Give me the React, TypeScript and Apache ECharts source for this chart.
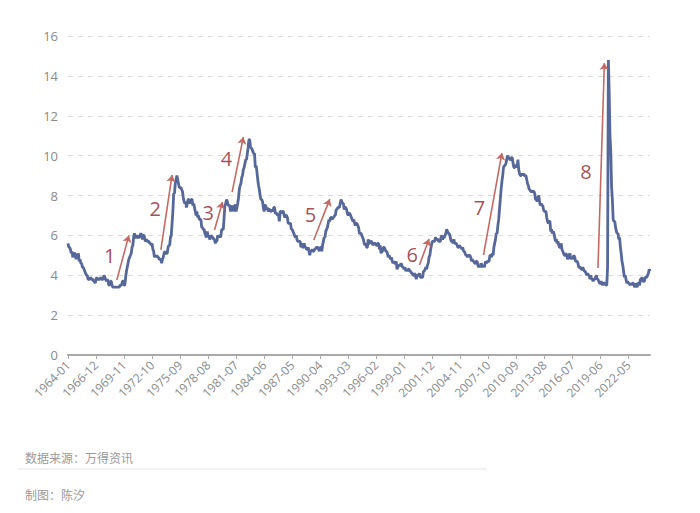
import React, { useEffect, useRef } from "react";
import * as echarts from "echarts";

const startYear = 1964;
const unrate: number[][] = [
  [5.6, 5.4, 5.4, 5.3, 5.1, 5.2, 4.9, 5.0, 5.1, 5.1, 4.8, 5.0],
  [4.9, 5.1, 4.7, 4.8, 4.6, 4.6, 4.4, 4.4, 4.3, 4.2, 4.1, 4.0],
  [4.0, 3.8, 3.8, 3.8, 3.9, 3.8, 3.8, 3.8, 3.7, 3.7, 3.6, 3.8],
  [3.9, 3.8, 3.8, 3.8, 3.8, 3.9, 3.8, 3.8, 3.8, 4.0, 3.9, 3.8],
  [3.7, 3.8, 3.7, 3.5, 3.5, 3.7, 3.7, 3.5, 3.4, 3.4, 3.4, 3.4],
  [3.4, 3.4, 3.4, 3.4, 3.4, 3.5, 3.5, 3.5, 3.7, 3.7, 3.5, 3.5],
  [3.9, 4.2, 4.4, 4.6, 4.8, 4.9, 5.0, 5.1, 5.4, 5.5, 5.9, 6.1],
  [5.9, 5.9, 6.0, 5.9, 5.9, 5.9, 6.0, 6.1, 6.0, 5.8, 6.0, 6.0],
  [5.8, 5.7, 5.8, 5.7, 5.7, 5.7, 5.6, 5.6, 5.5, 5.6, 5.3, 5.2],
  [4.9, 5.0, 4.9, 5.0, 4.9, 4.9, 4.8, 4.8, 4.8, 4.6, 4.8, 4.9],
  [5.1, 5.2, 5.1, 5.1, 5.1, 5.4, 5.5, 5.5, 5.9, 6.0, 6.6, 7.2],
  [8.1, 8.1, 8.6, 8.8, 9.0, 8.8, 8.6, 8.4, 8.4, 8.4, 8.3, 8.2],
  [7.9, 7.7, 7.6, 7.7, 7.4, 7.6, 7.8, 7.8, 7.6, 7.7, 7.8, 7.8],
  [7.5, 7.6, 7.4, 7.2, 7.0, 7.2, 6.9, 7.0, 6.8, 6.8, 6.8, 6.4],
  [6.4, 6.3, 6.3, 6.1, 6.0, 5.9, 6.2, 5.9, 6.0, 5.8, 5.9, 6.0],
  [5.9, 5.9, 5.8, 5.8, 5.6, 5.7, 5.7, 6.0, 5.9, 6.0, 5.9, 6.0],
  [6.3, 6.3, 6.3, 6.9, 7.5, 7.6, 7.8, 7.7, 7.5, 7.5, 7.5, 7.2],
  [7.5, 7.4, 7.4, 7.2, 7.5, 7.5, 7.2, 7.4, 7.6, 7.9, 8.3, 8.5],
  [8.6, 8.9, 9.0, 9.3, 9.4, 9.6, 9.8, 9.8, 10.1, 10.4, 10.8, 10.8],
  [10.4, 10.4, 10.3, 10.2, 10.1, 10.1, 9.4, 9.5, 9.2, 8.8, 8.5, 8.3],
  [8.0, 7.8, 7.8, 7.7, 7.4, 7.2, 7.5, 7.5, 7.3, 7.4, 7.2, 7.3],
  [7.3, 7.2, 7.2, 7.3, 7.2, 7.4, 7.4, 7.1, 7.1, 7.1, 7.0, 7.0],
  [6.7, 7.2, 7.2, 7.1, 7.2, 7.2, 7.0, 6.9, 7.0, 7.0, 6.9, 6.6],
  [6.6, 6.6, 6.6, 6.3, 6.3, 6.2, 6.1, 6.0, 5.9, 6.0, 5.8, 5.7],
  [5.7, 5.7, 5.7, 5.4, 5.6, 5.4, 5.4, 5.6, 5.4, 5.4, 5.3, 5.3],
  [5.4, 5.2, 5.0, 5.2, 5.2, 5.3, 5.2, 5.2, 5.3, 5.3, 5.4, 5.4],
  [5.4, 5.3, 5.2, 5.4, 5.4, 5.2, 5.5, 5.7, 5.9, 5.9, 6.2, 6.3],
  [6.4, 6.6, 6.8, 6.7, 6.9, 6.9, 6.8, 6.9, 6.9, 7.0, 7.0, 7.3],
  [7.3, 7.4, 7.4, 7.4, 7.6, 7.8, 7.7, 7.6, 7.6, 7.3, 7.4, 7.4],
  [7.3, 7.1, 7.0, 7.1, 7.1, 7.0, 6.9, 6.8, 6.7, 6.8, 6.6, 6.5],
  [6.6, 6.6, 6.5, 6.4, 6.1, 6.1, 6.1, 6.0, 5.9, 5.8, 5.6, 5.5],
  [5.6, 5.4, 5.4, 5.8, 5.6, 5.6, 5.7, 5.7, 5.6, 5.5, 5.6, 5.6],
  [5.6, 5.5, 5.5, 5.6, 5.6, 5.3, 5.5, 5.1, 5.2, 5.2, 5.4, 5.4],
  [5.3, 5.2, 5.2, 5.1, 4.9, 5.0, 4.9, 4.8, 4.9, 4.7, 4.6, 4.7],
  [4.6, 4.6, 4.7, 4.3, 4.4, 4.5, 4.5, 4.5, 4.6, 4.5, 4.4, 4.4],
  [4.3, 4.4, 4.2, 4.3, 4.2, 4.3, 4.3, 4.2, 4.2, 4.1, 4.1, 4.0],
  [4.0, 4.1, 4.0, 3.8, 4.0, 4.0, 4.0, 4.1, 3.9, 3.9, 3.9, 3.9],
  [4.2, 4.2, 4.3, 4.4, 4.3, 4.5, 4.6, 4.9, 5.0, 5.3, 5.5, 5.7],
  [5.7, 5.7, 5.7, 5.9, 5.8, 5.8, 5.8, 5.7, 5.7, 5.7, 5.9, 6.0],
  [5.8, 5.9, 5.9, 6.0, 6.1, 6.3, 6.2, 6.1, 6.1, 6.0, 5.8, 5.7],
  [5.7, 5.6, 5.8, 5.6, 5.6, 5.6, 5.5, 5.4, 5.4, 5.5, 5.4, 5.4],
  [5.3, 5.4, 5.2, 5.2, 5.1, 5.0, 5.0, 4.9, 5.0, 5.0, 5.0, 4.9],
  [4.7, 4.8, 4.7, 4.7, 4.6, 4.6, 4.7, 4.7, 4.5, 4.4, 4.5, 4.4],
  [4.6, 4.5, 4.4, 4.5, 4.4, 4.6, 4.7, 4.6, 4.7, 4.7, 4.7, 5.0],
  [5.0, 4.9, 5.1, 5.0, 5.4, 5.6, 5.8, 6.1, 6.1, 6.5, 6.8, 7.3],
  [7.8, 8.3, 8.7, 9.0, 9.4, 9.5, 9.5, 9.6, 9.8, 10.0, 9.9, 9.9],
  [9.8, 9.8, 9.9, 9.9, 9.6, 9.4, 9.4, 9.5, 9.5, 9.4, 9.8, 9.3],
  [9.1, 9.0, 9.0, 9.1, 9.0, 9.1, 9.0, 9.0, 9.0, 8.8, 8.6, 8.5],
  [8.3, 8.3, 8.2, 8.2, 8.2, 8.2, 8.2, 8.1, 7.8, 7.8, 7.7, 7.9],
  [8.0, 7.7, 7.5, 7.6, 7.5, 7.5, 7.3, 7.2, 7.2, 7.2, 6.9, 6.7],
  [6.6, 6.7, 6.7, 6.2, 6.3, 6.1, 6.2, 6.1, 5.9, 5.7, 5.8, 5.6],
  [5.7, 5.5, 5.4, 5.4, 5.6, 5.3, 5.2, 5.1, 5.0, 5.0, 5.1, 5.0],
  [4.8, 4.9, 5.0, 5.1, 4.8, 4.9, 4.8, 4.9, 5.0, 4.9, 4.7, 4.7],
  [4.7, 4.6, 4.4, 4.4, 4.4, 4.3, 4.3, 4.4, 4.3, 4.2, 4.2, 4.1],
  [4.0, 4.1, 4.0, 4.0, 3.8, 4.0, 3.8, 3.8, 3.7, 3.8, 3.8, 3.9],
  [4.0, 3.8, 3.8, 3.7, 3.6, 3.6, 3.7, 3.6, 3.5, 3.6, 3.6, 3.6],
  [3.5, 3.5, 4.4, 14.8, 13.2, 11.0, 10.2, 8.4, 7.8, 6.8, 6.7, 6.7],
  [6.4, 6.2, 6.1, 6.1, 5.8, 5.9, 5.4, 5.1, 4.7, 4.5, 4.2, 3.9],
  [4.0, 3.8, 3.6, 3.7, 3.6, 3.6, 3.5, 3.6, 3.5, 3.6, 3.6, 3.5],
  [3.4, 3.6, 3.5, 3.4, 3.6, 3.6, 3.5, 3.8, 3.8, 3.9, 3.7, 3.7],
  [3.7, 3.9, 3.9, 3.9, 4.0, 4.1, 4.3, 4.2],
];

// arrows: [startMonth, startValue, endMonth, endValue]
const arrows: [string, number, string, number][] = [
  ["1969-02", 3.76, "1970-05", 6.0],
  ["1973-09", 5.27, "1974-11", 9.03],
  ["1979-04", 6.27, "1980-02", 7.67],
  ["1981-02", 8.17, "1982-04", 10.93],
  ["1989-08", 5.77, "1991-04", 7.82],
  ["2000-08", 4.51, "2001-08", 5.82],
  ["2007-04", 5.01, "2009-03", 10.13],
  ["2019-03", 4.36, "2019-11", 14.64],
];

// numbered labels: [month, value, text]
const labels: [string, number, string][] = [
  ["1968-05", 5.0, "1"],
  ["1973-02", 7.37, "2"],
  ["1978-08", 7.15, "3"],
  ["1980-07", 9.85, "4"],
  ["1989-04", 7.07, "5"],
  ["1999-11", 5.05, "6"],
  ["2006-11", 7.4, "7"],
  ["2017-12", 9.18, "8"],
];

const categories: string[] = [];
const values: number[] = [];
unrate.forEach((row, yi) => {
  row.forEach((v, mi) => {
    categories.push(`${startYear + yi}-${String(mi + 1).padStart(2, "0")}`);
    values.push(v);
  });
});

export default function App() {
  const ref = useRef<HTMLDivElement>(null);
  useEffect(() => {
    document.body.style.margin = "0";
    const chart = echarts.init(ref.current!, null, { renderer: "svg" });
    const font = "'Open Sans', 'Noto Sans', 'Noto Sans CJK SC', sans-serif";
    chart.setOption({
      animation: false,
      backgroundColor: "#ffffff",
      textStyle: { fontFamily: font },
      grid: { left: 68, right: 50, top: 36, bottom: 158, containLabel: false },
      xAxis: {
        type: "category",
        data: categories,
        boundaryGap: false,
        axisLine: { lineStyle: { color: "#a9a9a9", width: 2 } },
        axisTick: { show: true, interval: 34, length: 4, lineStyle: { color: "#a9a9a9" } },
        axisLabel: {
          interval: 34,
          rotate: 45,
          color: "#8a8a8a",
          fontSize: 12,
          fontFamily: font,
          margin: 8,
        },
        splitLine: { show: false },
      },
      yAxis: {
        type: "value",
        min: 0,
        max: 16,
        interval: 2,
        axisLine: { show: false },
        axisTick: { show: false },
        axisLabel: { color: "#8a8a8a", fontSize: 13, fontFamily: font, margin: 10 },
        splitLine: { lineStyle: { color: "#dcdcdc", type: [5, 5], width: 1 } },
      },
      series: [
        {
          type: "line",
          data: values,
          showSymbol: false,
          lineStyle: { color: "#56679a", width: 2.8 },
          itemStyle: { color: "#56679a" },
          markLine: {
            silent: true,
            symbol: ["none", "arrow"],
            symbolSize: 7,
            label: { show: false },
            lineStyle: { color: "#c46a63", width: 1.6, type: "solid" },
            itemStyle: { color: "#c46a63" },
            data: arrows.map(([c1, v1, c2, v2]) => [
              { coord: [c1, v1] },
              { coord: [c2, v2] },
            ]),
          },
          z: 2,
        },
        {
          type: "scatter",
          data: labels.map(([c, v, t]) => ({ value: [c, v], name: t })),
          symbolSize: 1,
          itemStyle: { color: "rgba(0,0,0,0)" },
          label: {
            show: true,
            position: "inside",
            formatter: (p: any) => p.name,
            color: "#931a2b",
            fontSize: 20,
            fontFamily: font,
          },
          silent: true,
          z: 3,
        },
      ],
      graphic: [
        {
          type: "text",
          left: 25,
          top: 451,
          style: {
            text: "数据来源：万得资讯",
            fill: "#9a9a9a",
            fontSize: 12,
            fontFamily: "'Noto Sans CJK SC', sans-serif",
          },
        },
        {
          type: "line",
          shape: { x1: 18, y1: 469, x2: 487, y2: 469 },
          style: { stroke: "#ececec", lineWidth: 1.5 },
        },
        {
          type: "text",
          left: 25,
          top: 488,
          style: {
            text: "制图：陈汐",
            fill: "#9a9a9a",
            fontSize: 12,
            fontFamily: "'Noto Sans CJK SC', sans-serif",
          },
        },
      ],
    });
    return () => chart.dispose();
  }, []);
  return <div ref={ref} style={{ width: 700, height: 513 }} />;
}
